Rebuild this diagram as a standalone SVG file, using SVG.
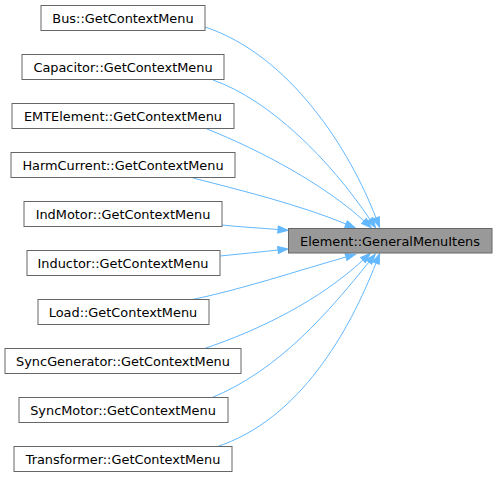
<svg xmlns="http://www.w3.org/2000/svg" width="497" height="480" viewBox="0 0 497 480">
<style>
.n rect{fill:#ffffff;stroke:#666666;stroke-width:1}
.n text{font-family:"DejaVu Sans","Liberation Sans",sans-serif;font-size:12.9px;fill:#000000;text-anchor:middle}
#target rect{fill:#999999}
.e path{fill:none;stroke:#63b8ff;stroke-width:1;marker-end:url(#ah)}
</style>
<defs>
<marker id="ah" markerUnits="userSpaceOnUse" markerWidth="11" markerHeight="8" refX="0" refY="3.5" orient="auto" viewBox="0 0 11 8" overflow="visible">
<path d="M0,0 L10,3.5 L0,7 Z" fill="#63b8ff" stroke="#63b8ff" stroke-width="1"/>
</marker>
</defs>
<rect width="497" height="480" fill="#ffffff"/>
<g id="edges" class="e">
<path d="M205,27 C290,55 350,150 376,218"/>
<path d="M213,80 C270,100 330,160 370,219.5"/>
<path d="M207,129 C260,150 325,185 364,221"/>
<path d="M193,178 C240,190 300,205 346,224"/>
<path d="M222,225 C240,227 260,228 278,229.5"/>
<path d="M220,256 C240,254 260,252 278,250"/>
<path d="M190,300 C240,290 300,270 346,257"/>
<path d="M203,349 C260,330 320,300 363,260"/>
<path d="M211,398 C280,370 330,310 369,262"/>
<path d="M216,447 C300,420 350,330 376,263"/>
</g>
<g id="target" class="n"><rect x="288.5" y="228.5" width="203.5" height="24.5"/><text x="390" y="245.5">Element::GeneralMenuItens</text></g>
<g id="bus" class="n"><rect x="41" y="5.5" width="164" height="25"/><text x="123" y="22.5">Bus::GetContextMenu</text></g>
<g id="capacitor" class="n"><rect x="22" y="54.5" width="202" height="25"/><text x="123" y="71.5">Capacitor::GetContextMenu</text></g>
<g id="emtelement" class="n"><rect x="12" y="103.5" width="222" height="25"/><text x="123" y="120.5">EMTElement::GetContextMenu</text></g>
<g id="harmcurrent" class="n"><rect x="11" y="152.5" width="224" height="25"/><text x="123" y="169.5">HarmCurrent::GetContextMenu</text></g>
<g id="indmotor" class="n"><rect x="24" y="201.5" width="198" height="25"/><text x="123" y="218.5">IndMotor::GetContextMenu</text></g>
<g id="inductor" class="n"><rect x="27" y="250.5" width="193" height="25"/><text x="123" y="267.5">Inductor::GetContextMenu</text></g>
<g id="load" class="n"><rect x="38" y="299.5" width="171" height="25"/><text x="123" y="316.5">Load::GetContextMenu</text></g>
<g id="syncgenerator" class="n"><rect x="5" y="348.5" width="236" height="25"/><text x="123" y="365.5">SyncGenerator::GetContextMenu</text></g>
<g id="syncmotor" class="n"><rect x="19" y="397.5" width="209" height="25"/><text x="123" y="414.5">SyncMotor::GetContextMenu</text></g>
<g id="transformer" class="n"><rect x="14" y="446.5" width="218" height="25"/><text x="123" y="463.5">Transformer::GetContextMenu</text></g>
</svg>
